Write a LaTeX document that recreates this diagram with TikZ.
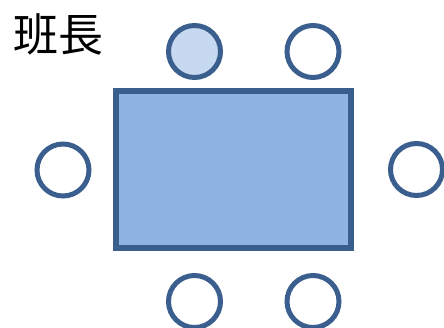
\documentclass[tikz,border=0pt]{standalone}
\usepackage{fontspec}
\newfontfamily\cjk{Noto Sans CJK JP}
\usetikzlibrary{positioning}
\definecolor{seatline}{HTML}{3A5F8E}
\definecolor{tablefill}{HTML}{8EB4E3}
\definecolor{leadfill}{HTML}{C6D9F1}

\begin{document}
\begin{tikzpicture}[
  x=1pt, y=-1pt,
  seat/.style={draw=seatline, line width=5pt, circle, minimum size=52pt, inner sep=0pt, fill=white},
  tablebox/.style={draw=seatline, line width=5.5pt, fill=tablefill, minimum width=235pt, minimum height=157pt, inner sep=0pt},
  title/.style={font=\cjk\fontsize{45}{50}\selectfont, inner sep=0pt}
]
\useasboundingbox (0,0) rectangle (444,328);
\node[tablebox] (table) at (233.5,169.5) {};
\node[seat, fill=leadfill] (leader) at (194.5,51.5) {};
\node[seat] (topright) at (313,51.5) {};
\node[seat] (left) at (63,170) {};
\node[seat] (right) at (416.5,169.5) {};
\node[seat] (botleft) at (194.5,301.5) {};
\node[seat] (botright) at (313,301.5) {};
\node[title] (label) at (58,34) {班長};
\end{tikzpicture}
\end{document}
